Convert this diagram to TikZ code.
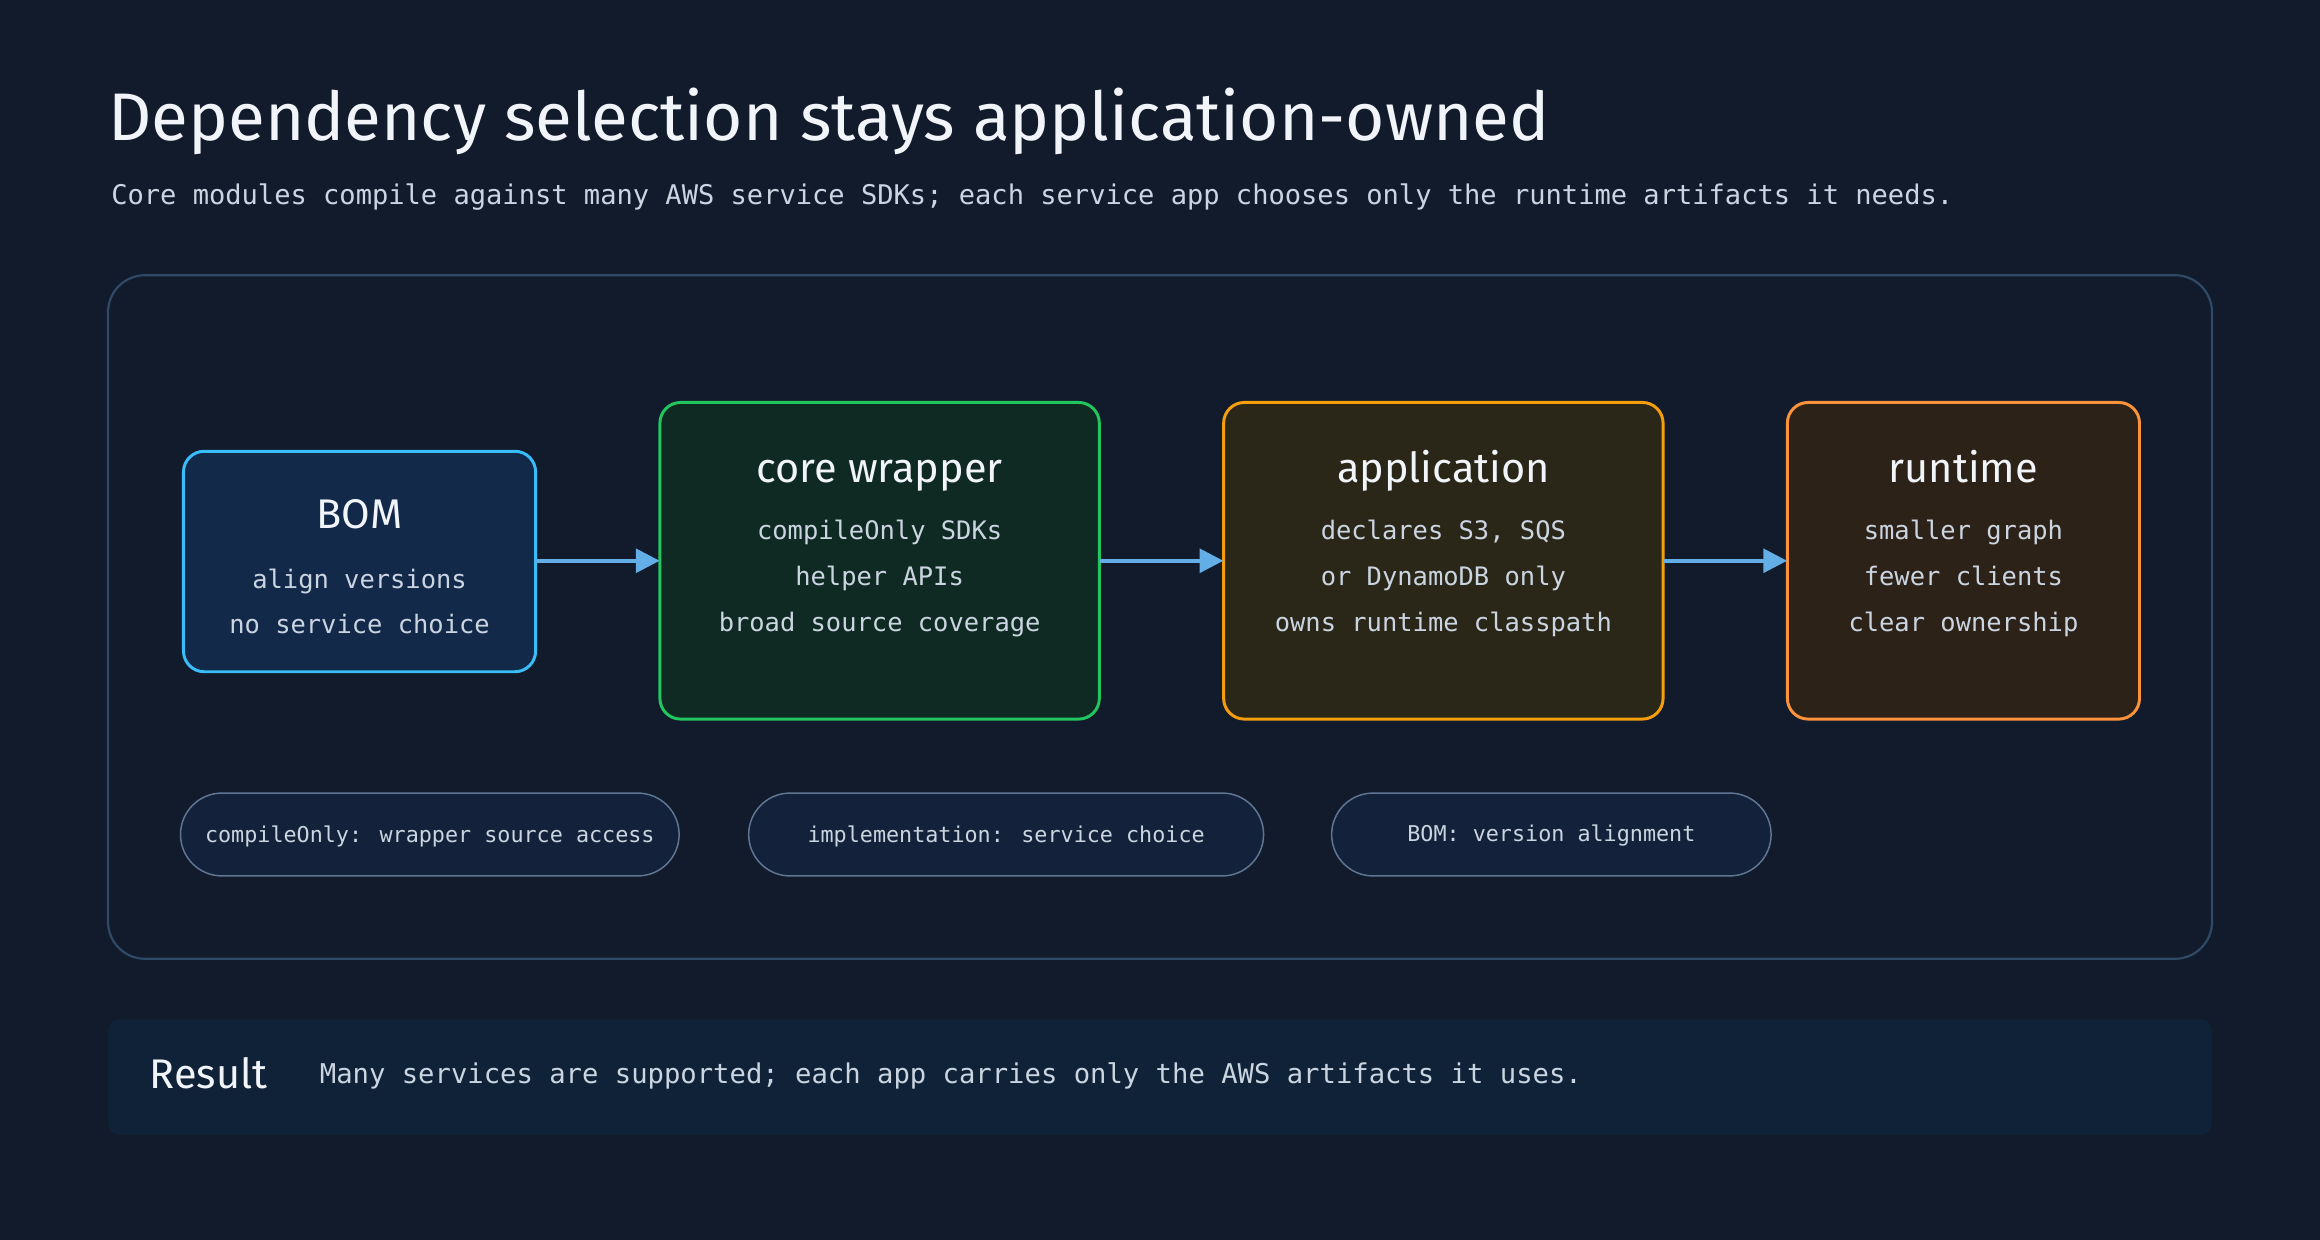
\documentclass[tikz,border=0pt]{standalone}
\usepackage{fontspec}
\setmainfont{Fira Sans}
\newfontfamily\monof{DejaVu Sans Mono}
\usetikzlibrary{arrows.meta}
\definecolor{bg}{HTML}{121B2C}
\definecolor{panel}{HTML}{2E4A66}
\definecolor{txt}{HTML}{F1F5F9}
\definecolor{sub}{HTML}{CBD5E1}
\definecolor{arr}{HTML}{63AEE6}
\definecolor{pillst}{HTML}{5F7591}
\definecolor{pillbg}{HTML}{13223A}
\definecolor{bomst}{HTML}{38BDF8}
\definecolor{bombg}{HTML}{12294A}
\definecolor{corest}{HTML}{22C55E}
\definecolor{corebg}{HTML}{0F2A22}
\definecolor{appst}{HTML}{F59E0B}
\definecolor{appbg}{HTML}{2A2718}
\definecolor{runst}{HTML}{FB923C}
\definecolor{runbg}{HTML}{2C2218}
\definecolor{resbg}{HTML}{0F2238}
\begin{document}
\begin{tikzpicture}[x=1pt,y=-1pt,
  ttl/.style={text=txt,font=\fontsize{28}{30}\selectfont,anchor=base,inner sep=0},
  body/.style={text=sub,font=\monof\fontsize{17.2}{31}\selectfont,align=center,anchor=center},
  pill/.style={draw=pillst,fill=pillbg,rounded corners=28pt,line width=1pt},
  pilltxt/.style={text=sub,font=\monof\fontsize{14.7}{16}\selectfont,anchor=center},
  conn/.style={draw=arr,line width=2.5pt,-{Triangle[length=16pt,width=16pt]}}]
\useasboundingbox (0,0) rectangle (1568,838);
\fill[bg] (0,0) rectangle (1568,838);
\node[anchor=base west,text=txt,font=\fontsize{45.5}{48}\selectfont,inner sep=0] (title) at (73,95) {Dependency selection stays application-owned};
\node[anchor=west,text=sub,font=\monof\fontsize{18.3}{22}\selectfont,inner sep=0] (subt) at (75,133) {Core modules compile against many AWS service SDKs; each service app chooses only the runtime artifacts it needs.};
\draw[draw=panel,line width=1.5pt,rounded corners=25pt] (73,186) rectangle (1495,648);
% boxes
\draw[draw=bomst,fill=bombg,rounded corners=14pt,line width=2pt] (124,305) rectangle (362,454);
\draw[draw=corest,fill=corebg,rounded corners=14pt,line width=2pt] (446,272) rectangle (743,486);
\draw[draw=appst,fill=appbg,rounded corners=14pt,line width=2pt] (827,272) rectangle (1124,486);
\draw[draw=runst,fill=runbg,rounded corners=14pt,line width=2pt] (1208,272) rectangle (1446,486);
\node[inner sep=0,minimum width=238pt,minimum height=148pt] (bom) at (243,379) {};
\node[inner sep=0,minimum width=297pt,minimum height=214pt] (core) at (594.5,379) {};
\node[inner sep=0,minimum width=297pt,minimum height=214pt] (app) at (975.5,379) {};
\node[inner sep=0,minimum width=238pt,minimum height=214pt] (run) at (1327,379) {};
\node[ttl] (bomt) at (243,357) {BOM};
\node[body] (boml) at (243,406.5) {align versions\\no service choice};
\node[ttl] (coret) at (594.5,326) {core wrapper};
\node[body] (corel) at (594.5,391) {compileOnly SDKs\\helper APIs\\broad source coverage};
\node[ttl] (appt) at (975.5,326) {application};
\node[body] (appl) at (975.5,391) {declares S3, SQS\\or DynamoDB only\\owns runtime classpath};
\node[ttl] (runt) at (1327,326) {runtime};
\node[body] (runl) at (1327,391) {smaller graph\\fewer clients\\clear ownership};
\draw[conn] (bom.east) -- (core.west);
\draw[conn] (core.east) -- (app.west);
\draw[conn] (app.east) -- (run.west);
% pills
\draw[pill] (122,536) rectangle (459,592);
\draw[pill] (506,536) rectangle (854,592);
\draw[pill] (900,536) rectangle (1197,592);
\node[pilltxt] (p1) at (290.5,565) {compileOnly: wrapper source access};
\node[pilltxt] (p2) at (680,565) {implementation: service choice};
\node[pilltxt] (p3) at (1048.5,565) {BOM: version alignment};
% result
\fill[resbg,rounded corners=8pt] (73,689) rectangle (1495,767);
\node[anchor=west,text=txt,font=\fontsize{28}{30}\selectfont,inner sep=0] (res) at (101,725) {Result};
\node[anchor=west,text=sub,font=\monof\fontsize{18.4}{20}\selectfont,inner sep=0] (rest) at (216,727) {Many services are supported; each app carries only the AWS artifacts it uses.};
\end{tikzpicture}
\end{document}
